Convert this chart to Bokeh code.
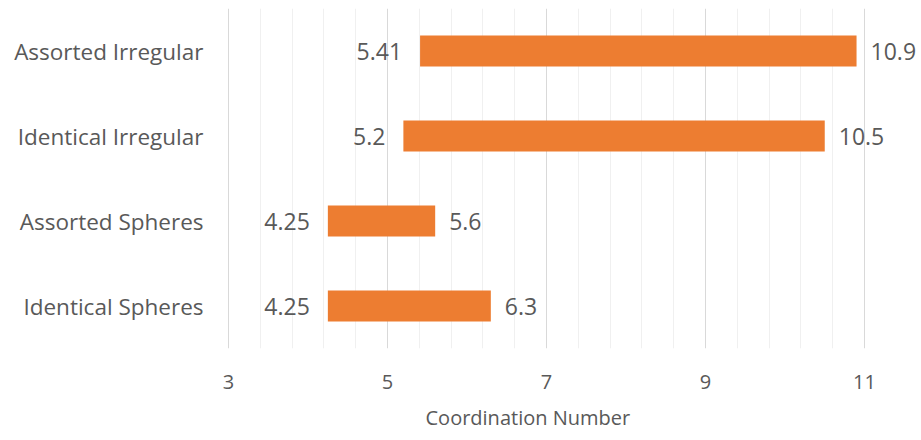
from bokeh.plotting import figure
from bokeh.models import ColumnDataSource, FixedTicker, Title
from bokeh.core.properties import value
from bokeh.embed import file_html
from bokeh.resources import INLINE

categories = ["Identical Spheres", "Assorted Spheres", "Identical Irregular", "Assorted Irregular"]
starts = [4.25, 4.25, 5.2, 5.41]
ends = [6.3, 5.6, 10.5, 10.9]
start_labels = ["4.25", "4.25", "5.2", "5.41"]
end_labels = ["6.3", "5.6", "10.5", "10.9"]
x_ticks = [3, 5, 7, 9, 11]
x_minor_ticks = [3.4, 3.8, 4.2, 4.6, 5.4, 5.8, 6.2, 6.6, 7.4, 7.8, 8.2, 8.6,
                 9.4, 9.8, 10.2, 10.6]
x_title = "Coordination Number"

FONT = "Open Sans"
GRAY = "#595959"
ORANGE = "#ED7D31"

src = ColumnDataSource(dict(cat=categories, start=starts, end=ends,
                            sl=start_labels, el=end_labels))

p = figure(y_range=categories, x_range=(2.95, 11.717), width=921, height=440,
           output_backend="svg", toolbar_location=None,
           min_border_left=224, min_border_right=0,
           min_border_top=8, min_border_bottom=92)
p.outline_line_color = None
p.background_fill_color = "white"

p.hbar(y="cat", left="start", right="end", height=0.365, source=src,
       fill_color=ORANGE, line_color=None)

p.text(x="start", y="cat", text="sl", source=src, x_offset=-18,
       text_align="right", text_baseline="middle",
       text_font=value(FONT), text_font_size="23px", text_color=GRAY)
p.text(x="end", y="cat", text="el", source=src, x_offset=14,
       text_align="left", text_baseline="middle",
       text_font=value(FONT), text_font_size="23px", text_color=GRAY)

# x axis
xa = p.xaxis[0]
xa.ticker = FixedTicker(ticks=x_ticks, minor_ticks=x_minor_ticks)
xa.axis_line_color = None
xa.major_tick_line_color = None
xa.minor_tick_line_color = None
xa.major_tick_out = 0
xa.minor_tick_out = 0
xa.major_label_text_font = FONT
xa.major_label_text_font_size = "20px"
xa.major_label_text_color = GRAY
xa.major_label_standoff = 26

# axis title, placed under the tick labels
p.add_layout(Title(text=x_title, align="left", offset=201, standoff=20,
                   text_font=FONT, text_font_size="20px",
                   text_font_style="normal", text_color=GRAY), "below")

# y axis
ya = p.yaxis[0]
ya.axis_line_color = None
ya.major_tick_line_color = None
ya.minor_tick_line_color = None
ya.major_tick_out = 0
ya.minor_tick_out = 0
ya.major_label_text_font = FONT
ya.major_label_text_font_size = "22.5px"
ya.major_label_text_color = GRAY
ya.major_label_standoff = 21

p.xgrid.grid_line_color = "#D9D9D9"
p.xgrid.minor_grid_line_color = "#F0F0F0"
p.ygrid.grid_line_color = None

open("out.html", "w").write(file_html(p, INLINE))
